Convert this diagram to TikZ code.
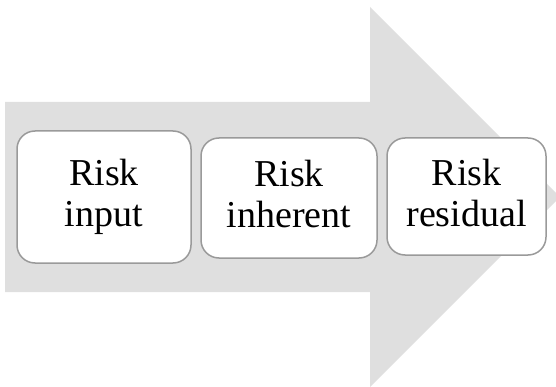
\documentclass[tikz,border=0pt]{standalone}
\usepackage{fontspec}
\setmainfont{Liberation Serif}
\definecolor{arrowgray}{HTML}{DFDFDF}
\definecolor{boxgray}{HTML}{9A9A9A}
\begin{document}
\begin{tikzpicture}[x=1pt,y=-1pt,
  box/.style={draw=boxgray, line width=1.5pt, fill=white, rounded corners=18pt,
    inner sep=0pt, align=center, text depth=8pt, font=\fontsize{38}{41}\selectfont}]
\useasboundingbox (0,0) rectangle (556,387);
\fill[arrowgray] (5,102) -- (370,102) -- (370,7) -- (560,197) -- (370,387) -- (370,292) -- (5,292) -- cycle;
\node[box, minimum width=174pt, minimum height=132pt] (input) at (104,197) {Risk\\input};
\node[box, minimum width=176pt, minimum height=120pt] (inherent) at (289,198) {Risk\\inherent};
\node[box, minimum width=159pt, minimum height=117pt] (residual) at (466.5,196.5) {Risk\\residual};
\end{tikzpicture}
\end{document}
